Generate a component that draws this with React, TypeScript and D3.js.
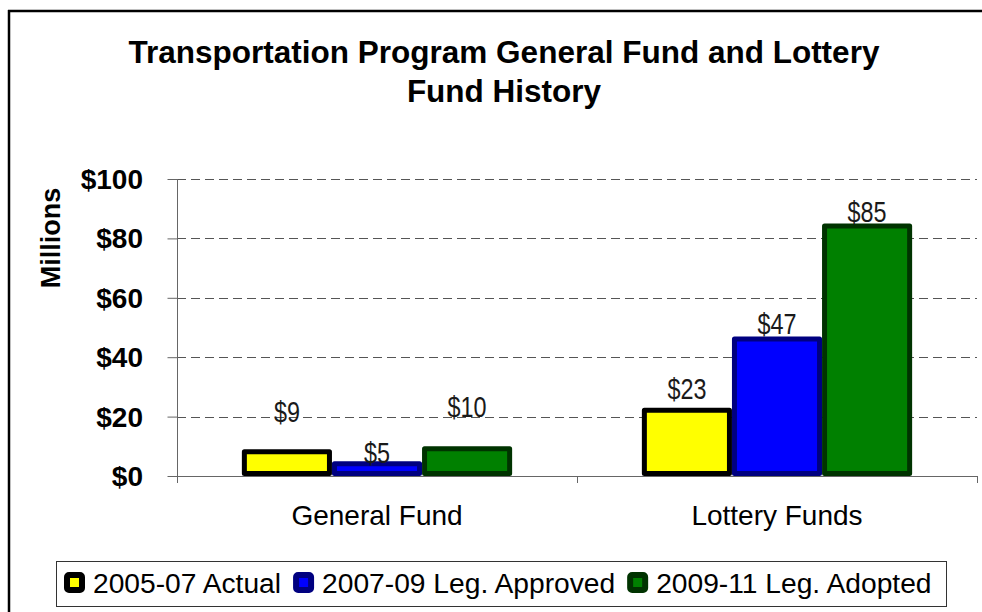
import React, { useEffect, useRef } from 'react';
import * as d3 from 'd3';

// chart data
const categories = ['General Fund', 'Lottery Funds'];
const seriesNames = ['2005-07 Actual', '2007-09 Leg. Approved', '2009-11 Leg. Adopted'];
const actual0507 = [9, 23];
const approved0709 = [5, 47];
const adopted0911 = [10, 85];
const yTicks = [0, 20, 40, 60, 80, 100];

// styling
const fills = ['#ffff00', '#0000ff', '#008000'];
const strokes = ['#000000', '#000080', '#003300'];
// vertical nudge of each value label from the bar top (px), per category then series
const labelShift = [[-27, 2, -29], [-9, -2, -2]];

const W = 982;
const H = 612;

const App = () => {
    const svgRef = useRef(null);

    useEffect(() => {
        const svg = d3.select(svgRef.current);
        svg.selectAll('*').remove();

        const values = [actual0507, approved0709, adopted0911];
        const left = 177, right = 977, top = 179, bottom = 476;
        const sw = 5;

        const x0 = d3.scaleBand().domain(categories).range([left, right]).padding(0);
        const x1 = d3.scaleBand().domain(seriesNames).range([0, x0.bandwidth()])
            .paddingInner(0).paddingOuter(0.72);
        const y = d3.scaleLinear().domain([0, 100]).range([bottom, top]);

        svg.append('rect')
            .attr('width', W).attr('height', H)
            .attr('fill', '#fff');

        // outer chart border (only top and left edges fall inside the picture)
        svg.append('line')
            .attr('x1', 9).attr('x2', 9).attr('y1', 10).attr('y2', H)
            .attr('stroke', '#000').attr('stroke-width', 2.5);
        svg.append('line')
            .attr('x1', 8).attr('x2', W).attr('y1', 11).attr('y2', 11)
            .attr('stroke', '#000').attr('stroke-width', 2.5);

        // title
        const title = svg.append('text')
            .attr('text-anchor', 'middle')
            .attr('font-family', '"Liberation Sans", Arial, sans-serif')
            .attr('font-weight', 'bold')
            .attr('font-size', 31.5);
        title.append('tspan').attr('x', 504).attr('y', 63)
            .text('Transportation Program General Fund and Lottery');
        title.append('tspan').attr('x', 504).attr('y', 102)
            .text('Fund History');

        // gridlines
        svg.append('g').selectAll('line')
            .data(yTicks.filter(d => d > 0))
            .enter().append('line')
            .attr('x1', left).attr('x2', right)
            .attr('y1', d => Math.round(y(d)) + 0.5).attr('y2', d => Math.round(y(d)) + 0.5)
            .attr('stroke', '#555')
            .attr('stroke-dasharray', '9,5');

        // y axis
        const yAxis = svg.append('g')
            .attr('transform', `translate(${left + 0.5},0)`)
            .call(d3.axisLeft(y).tickValues(yTicks).tickSize(10).tickFormat(() => ''));
        yAxis.select('.domain').remove();
        yAxis.selectAll('line').attr('stroke', '#666');
        svg.append('line')
            .attr('x1', left + 0.5).attr('x2', left + 0.5)
            .attr('y1', top).attr('y2', bottom + 7)
            .attr('stroke', '#666');

        svg.append('g').selectAll('text')
            .data(yTicks)
            .enter().append('text')
            .attr('x', 143)
            .attr('y', d => y(d))
            .attr('dy', '0.36em')
            .attr('text-anchor', 'end')
            .attr('font-family', '"Liberation Sans", Arial, sans-serif')
            .attr('font-weight', 'bold')
            .attr('font-size', 28)
            .text(d => '$' + d);

        svg.append('text')
            .attr('transform', 'translate(50,238) rotate(-90)')
            .attr('text-anchor', 'middle')
            .attr('dy', '0.36em')
            .attr('font-family', '"Liberation Sans", Arial, sans-serif')
            .attr('font-weight', 'bold')
            .attr('font-size', 27)
            .text('Millions');

        // bars
        categories.forEach((cat, ci) => {
            const g = svg.append('g').attr('transform', `translate(${x0(cat)},0)`);
            seriesNames.forEach((s, si) => {
                const v = values[si][ci];
                g.append('rect')
                    .attr('x', x1(s) + sw / 2)
                    .attr('y', y(v) + sw / 2)
                    .attr('width', x1.bandwidth() - sw)
                    .attr('height', Math.max(0, y(0) - y(v) - sw))
                    .attr('fill', fills[si])
                    .attr('stroke', strokes[si])
                    .attr('stroke-width', sw)
                    .attr('stroke-linejoin', 'round');
            });
            // value labels: narrow face squeezed from the regular one
            seriesNames.forEach((s, si) => {
                const v = values[si][ci];
                const txt = '$' + v;
                g.append('text')
                    .attr('x', x1(s) + x1.bandwidth() / 2)
                    .attr('y', y(v) + labelShift[ci][si])
                    .attr('text-anchor', 'middle')
                    .attr('font-family', '"Liberation Sans Narrow", "Liberation Sans", sans-serif')
                    .attr('font-size', 30)
                    .attr('textLength', txt.length * 13)
                    .attr('lengthAdjust', 'spacingAndGlyphs')
                    .attr('fill', '#1a1a1a')
                    .text(txt);
            });
        });

        // x axis
        svg.append('line')
            .attr('x1', left).attr('x2', right)
            .attr('y1', bottom + 0.5).attr('y2', bottom + 0.5)
            .attr('stroke', '#666');
        svg.append('g').selectAll('line')
            .data([left, ...categories.map(c => x0(c) + x0.bandwidth())])
            .enter().append('line')
            .attr('x1', d => d + 0.5).attr('x2', d => d + 0.5)
            .attr('y1', bottom).attr('y2', bottom + 7)
            .attr('stroke', '#666');
        svg.append('g').selectAll('text')
            .data(categories)
            .enter().append('text')
            .attr('x', d => x0(d) + x0.bandwidth() / 2)
            .attr('y', 525)
            .attr('text-anchor', 'middle')
            .attr('font-family', '"Liberation Sans", Arial, sans-serif')
            .attr('font-size', 28)
            .text(d => d);

        // legend
        const legend = svg.append('g');
        legend.append('rect')
            .attr('x', 56.5).attr('y', 561.5)
            .attr('width', 890).attr('height', 45)
            .attr('fill', 'white').attr('stroke', '#333');
        let lx = 64;
        seriesNames.forEach((s, si) => {
            legend.append('rect')
                .attr('x', lx + 3).attr('y', 575)
                .attr('width', 15).attr('height', 15)
                .attr('rx', 2)
                .attr('fill', fills[si])
                .attr('stroke', strokes[si])
                .attr('stroke-width', 6)
                .attr('stroke-linejoin', 'round');
            const t = legend.append('text')
                .attr('x', lx + 29).attr('y', 593)
                .attr('font-family', '"Liberation Sans", Arial, sans-serif')
                .attr('font-size', 28.2)
                .text(s);
            const len = t.node().getComputedTextLength();
            lx = lx + 29 + len + 12;
        });
    }, []);

    return (
        <div style={{ position: 'absolute', left: 0, top: 0, width: W, height: H, overflow: 'hidden' }}>
            <svg ref={svgRef} width={W} height={H} style={{ display: 'block' }} />
        </div>
    );
};

export default App;
